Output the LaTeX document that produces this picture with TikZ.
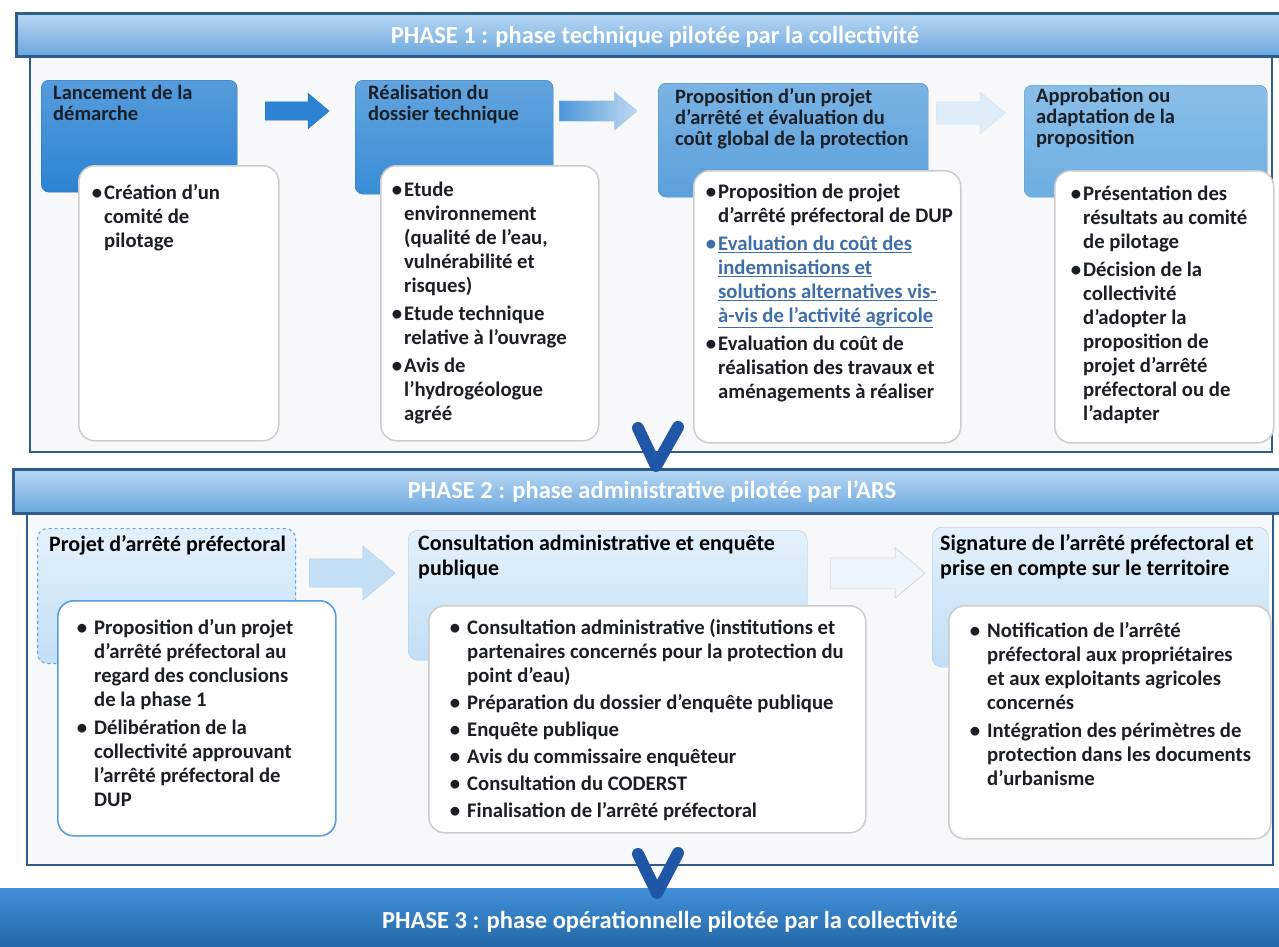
\documentclass[tikz,border=0pt]{standalone}
\usepackage{fontspec}
\setmainfont{Carlito}
\usetikzlibrary{shapes.arrows,positioning}
\definecolor{frm}{HTML}{2F5C8A}
\definecolor{bandtop}{HTML}{B9D8F3}
\definecolor{bandbot}{HTML}{6AA7DE}
\definecolor{chev}{HTML}{1F56A6}
\definecolor{ink}{HTML}{1A1F26}
\definecolor{lnk}{HTML}{3F6FA8}
\definecolor{hb1}{HTML}{2C83D3}
\definecolor{hb2}{HTML}{3A8DD6}
\definecolor{hb3}{HTML}{5AA0DC}
\definecolor{hb4}{HTML}{6DAEE2}
\definecolor{pb}{HTML}{C2DFF6}
\newcommand{\bu}{\llap{•\hspace{2pt}}}
\newcommand{\bb}{\llap{•\hspace{7pt}}}
\newcommand{\lk}[1]{\textcolor{lnk}{\underline{#1}}}

\begin{document}
\begin{tikzpicture}
    [x=1pt,y=-1pt,
     frame/.style={draw=frm,line width=2pt,fill=frm!4},
     band/.style={draw=frm,line width=2.5pt,top color=bandtop,bottom color=bandbot},
     bandtxt/.style={text=white,font=\fontsize{24.5}{28}\selectfont\bfseries},
     hbox/.style={rounded corners=8pt,anchor=north west,inner sep=0,
       draw=#1!85!black,top color=#1!80!white,bottom color=#1},
     pbox/.style={rounded corners=10pt,anchor=north west,inner sep=0,
       draw=pb!70!gray,top color=pb!45!white,bottom color=pb},
     wbox/.style={rounded corners=16pt,anchor=north west,inner sep=0,
       fill=white,draw=black!20,line width=1.5pt},
     htxt/.style={align=left,inner sep=0,text=ink,
       font=\fontsize{20.5}{21}\selectfont\bfseries,execute at begin node=\strut},
     ptxt/.style={align=left,inner sep=0,text=black,
       font=\fontsize{22}{25}\selectfont\bfseries,execute at begin node=\strut},
     btxt/.style={align=left,inner sep=0,text=ink,
       font=\fontsize{20.7}{24}\selectfont\bfseries,execute at begin node=\strut},
     blk/.style={single arrow,inner sep=0,anchor=west,single arrow tip angle=80},
     chv/.style={draw=chev,line width=12pt,line cap=round,line join=round}]
    \useasboundingbox (0,0) rectangle (1279,946);

    % phase 1
    \draw[frame] (30,55) rectangle (1272,452);
    \node[band,anchor=north west,minimum width=1270pt,minimum height=43pt] (b1) at (15,12) {};
    \node[bandtxt] (p1) at (655,37) {PHASE 1 : phase technique pilotée par la collectivité};

    \node[hbox=hb1,minimum width=196pt,minimum height=112pt] (h1) at (41,80) {};
    \node[hbox=hb2,minimum width=198pt,minimum height=114pt] (h2) at (355,80) {};
    \node[hbox=hb3,minimum width=270pt,minimum height=114pt] (h3) at (658,83) {};
    \node[hbox=hb4,minimum width=243pt,minimum height=112pt] (h4) at (1024,85) {};
    \node[htxt,below right=5pt and 12pt of h1.north west] (t1) {Lancement de la\\démarche};
    \node[htxt,below right=5pt and 13pt of h2.north west] (t2) {Réalisation du\\dossier technique};
    \node[htxt,below right=5pt and 17pt of h3.north west] (t3)
      {Proposition d’un projet\\d’arrêté et évaluation du\\coût global de la protection};
    \node[htxt,below right=3pt and 12pt of h4.north west] (t4)
      {Approbation ou\\adaptation de la\\proposition};

    \node[blk,minimum height=64pt,text height=9pt,text depth=9pt,single arrow head extend=8.5pt,
      fill=hb1,draw=hb1!85!black] (a1) at (265,111) {};
    \node[blk,minimum height=78pt,text height=10pt,text depth=10pt,single arrow head extend=9pt,
      left color=hb1!85,right color=hb1!30,draw=hb1!40] (a2) at (559,111) {};
    \node[blk,minimum height=69pt,text height=11pt,text depth=11pt,single arrow head extend=10pt,
      fill=hb4!22!white,draw=hb4!35] (a3) at (936,113) {};

    \node[wbox,minimum width=200pt,minimum height=275pt] (w1) at (78,165) {};
    \node[wbox,minimum width=218pt,minimum height=275pt] (w2) at (380,165) {};
    \node[wbox,minimum width=267pt,minimum height=272pt] (w3) at (693,170) {};
    \node[wbox,minimum width=219pt,minimum height=272pt] (w4) at (1054,170) {};
    \node[btxt,below right=19pt and 26pt of w1.north west] (x1)
      {\bu Création d’un\\comité de\\pilotage};
    \node[btxt,below right=17pt and 24pt of w2.north west] (x2)
      {\bu Etude\\environnement\\(qualité de l’eau,\\vulnérabilité et\\risques)\\[4pt]
       \bu Etude technique\\relative à l’ouvrage\\[4pt]\bu Avis de\\l’hydrogéologue\\agréé};
    \node[btxt,below right=14pt and 25pt of w3.north west] (x3)
      {\bu Proposition de projet\\d’arrêté préfectoral de DUP\\[4pt]
       \textcolor{lnk}{\bu}\lk{Evaluation du coût des}\\\lk{indemnisations et}\\
       \lk{solutions alternatives vis-}\\\lk{à-vis de l’activité agricole}\\[4pt]
       \bu Evaluation du coût de\\réalisation des travaux et\\aménagements à réaliser};
    \node[btxt,below right=16pt and 29pt of w4.north west] (x4)
      {\bu Présentation des\\résultats au comité\\de pilotage\\[4pt]
       \bu Décision de la\\collectivité\\d’adopter la\\proposition de\\projet d’arrêté\\
       préfectoral ou de\\l’adapter};

    % phase 2
    \draw[frame] (27,512) rectangle (1273,865);
    \node[band,anchor=north west,minimum width=1275pt,minimum height=44pt] (b2) at (12,468) {};
    \node[bandtxt] (p2) at (652,492) {PHASE 2 : phase administrative pilotée par l’ARS};
    \coordinate (v1l) at (638,428);
    \coordinate (v1t) at (656,466);
    \coordinate (v1r) at (678,427);
    \draw[chv] (v1l) -- (v1t) -- (v1r);

    \node[pbox,minimum width=258pt,minimum height=135pt,draw=hb2!80,dashed,line width=1pt] (q1) at (37,528) {};
    \node[pbox,minimum width=399pt,minimum height=130pt] (q2) at (408,530) {};
    \node[pbox,minimum width=336pt,minimum height=140pt] (q3) at (932,527) {};
    \node[ptxt,below right=6pt and 12pt of q1.north west] (s1) {Projet d’arrêté préfectoral};
    \node[ptxt,below right=5pt and 10pt of q2.north west] (s2)
      {Consultation administrative et enquête\\publique};
    \node[ptxt,below right=7pt and 8pt of q3.north west] (s3)
      {Signature de l’arrêté préfectoral et\\prise en compte sur le territoire};

    \node[blk,minimum height=86pt,text height=14pt,text depth=14pt,single arrow head extend=13pt,
      fill=pb,draw=pb!80!gray] (a4) at (309,573) {};
    \node[blk,minimum height=95pt,text height=15pt,text depth=15pt,single arrow head extend=10pt,
      fill=pb!30!white,draw=black!22] (a5) at (830,573) {};

    \node[wbox,minimum width=278pt,minimum height=235pt,draw=hb2!85,line width=1.6pt] (u1) at (57,600) {};
    \node[wbox,minimum width=437pt,minimum height=227pt] (u2) at (428,605) {};
    \node[wbox,minimum width=322pt,minimum height=233pt] (u3) at (948,605) {};
    \node[btxt,below right=19pt and 37pt of u1.north west] (y1)
      {\bb Proposition d’un projet\\d’arrêté préfectoral au\\regard des conclusions\\de la phase 1\\[4pt]
       \bb Délibération de la\\collectivité approuvant\\l’arrêté préfectoral de\\DUP};
    \node[btxt,below right=14pt and 39pt of u2.north west] (y2)
      {\bb Consultation administrative (institutions et\\partenaires concernés pour la protection du\\
       point d’eau)\\[3pt]\bb Préparation du dossier d’enquête publique\\[3pt]
       \bb Enquête publique\\[3pt]\bb Avis du commissaire enquêteur\\[3pt]
       \bb Consultation du CODERST\\[3pt]\bb Finalisation de l’arrêté préfectoral};
    \node[btxt,below right=17pt and 39pt of u3.north west] (y3)
      {\bb Notification de l’arrêté\\préfectoral aux propriétaires\\et aux exploitants agricoles\\
       concernés\\[4pt]\bb Intégration des périmètres de\\protection dans les documents\\d’urbanisme};

    % phase 3
    \node[anchor=north west,inner sep=0,minimum width=1279pt,minimum height=58pt,
      top color=hb1!90!white,bottom color=hb1!80!black] (b3) at (0,888) {};
    \node[bandtxt] (p3) at (670,922) {PHASE 3 : phase opérationnelle pilotée par la collectivité};
    \coordinate (v2l) at (638,854);
    \coordinate (v2t) at (657,893);
    \coordinate (v2r) at (678,853);
    \draw[chv] (v2l) -- (v2t) -- (v2r);
  \end{tikzpicture}
\end{document}
